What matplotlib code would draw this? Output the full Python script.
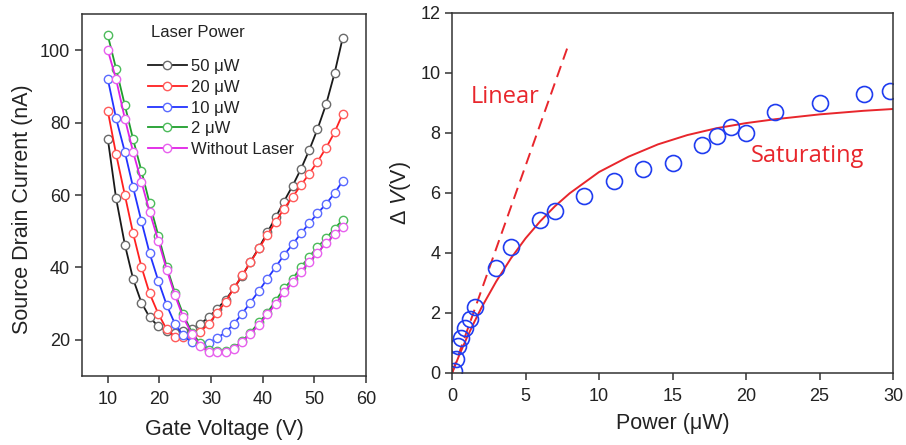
import matplotlib
matplotlib.use("Agg")
import matplotlib.pyplot as plt
from matplotlib.lines import Line2D

plt.rcParams["font.family"] = ["Liberation Sans", "DejaVu Sans"]
plt.rcParams["mathtext.fontset"] = "custom"
plt.rcParams["mathtext.rm"] = "Liberation Sans"
plt.rcParams["mathtext.it"] = "Liberation Sans:italic"

TEXT = "#222222"

# --- transfer curves: source-drain current vs gate voltage ---
gate_voltage = [10.0, 11.6, 13.3, 14.9, 16.5, 18.1, 19.8, 21.4, 23.0, 24.6,
                26.3, 27.9, 29.5, 31.1, 32.8, 34.4, 36.0, 37.6, 39.3, 40.9,
                42.5, 44.1, 45.8, 47.4, 49.0, 50.6, 52.3, 53.9, 55.5]

current_50uw = [75.5, 59.1, 46.3, 36.8, 30.3, 26.2, 23.7, 22.5, 22.0, 22.3,
                23.0, 24.4, 26.2, 28.5, 31.0, 34.2, 37.6, 41.5, 45.5, 49.7,
                53.8, 58.2, 62.6, 67.2, 72.4, 78.2, 85.2, 93.6, 103.5]
current_20uw = [83.2, 71.3, 60.0, 49.4, 40.2, 32.8, 27.1, 22.9, 20.9, 20.8,
                21.2, 22.2, 24.4, 27.3, 30.5, 34.2, 37.8, 41.4, 45.3, 49.0,
                52.6, 56.2, 59.5, 62.7, 65.9, 69.2, 73.1, 77.3, 82.5]
current_10uw = [92.0, 81.2, 71.9, 62.1, 52.8, 43.9, 36.2, 29.6, 24.4, 21.2,
                19.3, 18.8, 19.2, 20.4, 22.1, 24.4, 27.2, 30.3, 33.6, 36.9,
                40.1, 43.4, 46.4, 49.4, 52.2, 54.9, 57.6, 60.5, 63.9]
current_2uw = [104.1, 94.9, 84.8, 75.4, 66.7, 57.7, 48.7, 40.2, 33.0, 27.0,
               22.0, 19.0, 17.2, 16.9, 16.9, 17.8, 19.6, 22.0, 24.8, 27.5,
               30.8, 34.2, 36.8, 40.1, 43.0, 45.6, 48.1, 50.7, 53.2]
current_dark = [100.0, 92.0, 81.1, 71.9, 63.7, 55.3, 47.3, 39.4, 32.3, 26.2,
                21.6, 18.4, 16.7, 16.7, 16.7, 17.6, 19.4, 21.6, 24.2, 27.0,
                29.9, 33.1, 36.0, 38.8, 41.5, 44.1, 46.7, 49.1, 51.2]

series_labels = ["50 \u03bcW", "20 \u03bcW", "10 \u03bcW", "2 \u03bcW", "Without Laser"]
series_data = [current_50uw, current_20uw, current_10uw, current_2uw, current_dark]
line_colors = ["#1a1a1a", "#ff2020", "#2233ff", "#1f9e2c", "#e022e6"]
edge_colors = ["#6a6a6a", "#ff5a5a", "#5a6aff", "#4cbb5a", "#e860ee"]

# --- photovoltage vs laser power ---
power = [0.15, 0.25, 0.4, 0.6, 0.85, 1.25, 1.55, 3.0, 4.0, 6.0, 7.0, 9.0,
         11.0, 13.0, 15.0, 17.0, 18.0, 19.0, 20.0, 22.0, 25.0, 28.0, 29.8]
delta_v = [0.05, 0.45, 0.9, 1.15, 1.5, 1.8, 2.2, 3.5, 4.2, 5.1, 5.4, 5.9,
           6.4, 6.8, 7.0, 7.6, 7.9, 8.2, 8.0, 8.7, 9.0, 9.3, 9.4]

linear_power = [0.0, 7.85]
linear_dv = [0.0, 10.85]

saturating_power = [0, 0.5, 1, 1.5, 2, 3, 4, 5, 6, 7, 8, 10, 12, 14, 16, 18,
                    20, 22, 25, 28, 30]
saturating_dv = [0.0, 0.61, 1.17, 1.69, 2.18, 3.05, 3.82, 4.49, 5.06, 5.56,
                 5.99, 6.70, 7.21, 7.62, 7.93, 8.16, 8.33, 8.46, 8.62, 8.74, 8.8]

RED = "#e8262c"
BLUE = "#1f3cf0"


def style_axes(ax):
    for side in ax.spines.values():
        side.set_linewidth(1.1)
        side.set_color("#333333")
    ax.tick_params(direction="out", length=5, width=1.1, color="#333333",
                   labelsize=13, labelcolor=TEXT, top=False, right=False)
    ax.tick_params(axis="x", pad=5.5)


fig = plt.figure(figsize=(9.06, 4.45), dpi=100)

# left panel
ax1 = fig.add_axes([0.0905, 0.155, 0.3135, 0.8135])
for vals, lab, lc, ec in zip(series_data, series_labels, line_colors, edge_colors):
    ax1.plot(gate_voltage, vals, color=lc, lw=1.3, marker="o", ms=6,
             mfc="white", mec=ec, mew=1.0, label=lab)
ax1.set_xlim(5, 60)
ax1.set_ylim(10, 110)
ax1.set_xticks([10, 20, 30, 40, 50, 60])
ax1.set_yticks([20, 40, 60, 80, 100])
style_axes(ax1)
ax1.set_xlabel("Gate Voltage (V)", fontsize=15.5, color=TEXT, labelpad=8)
ax1.set_ylabel("Source Drain Current (nA)", fontsize=15.5, color=TEXT)
ax1.yaxis.set_label_coords(-0.172, 0.462)

handles = [Line2D([], [], color=lc, lw=1.3, marker="o", ms=6, mfc="white",
                  mec=ec, mew=1.0)
           for lc, ec in zip(line_colors, edge_colors)]
leg = ax1.legend(handles, series_labels, loc="upper left",
                 bbox_to_anchor=(0.232, 0.875), frameon=False, fontsize=12,
                 borderpad=0, borderaxespad=0, handlelength=2.35,
                 handletextpad=0.25, labelspacing=0.34)
for t in leg.get_texts():
    t.set_color(TEXT)
ax1.text(0.408, 0.950, "Laser Power", transform=ax1.transAxes, ha="center",
         va="center", fontsize=12, color=TEXT)

# right panel
ax2 = fig.add_axes([0.499, 0.1618, 0.4867, 0.809])
ax2.plot(saturating_power, saturating_dv, color=RED, lw=1.4)
ax2.plot(linear_power, linear_dv, color=RED, lw=1.4, dashes=(6, 3.5))
ax2.plot(power, delta_v, linestyle="none", marker="o", ms=11.5, mfc="none",
         mec=BLUE, mew=1.2)
ax2.set_xlim(0, 30)
ax2.set_ylim(0, 12)
ax2.set_xticks([0, 5, 10, 15, 20, 25, 30])
ax2.set_yticks([0, 2, 4, 6, 8, 10, 12])
style_axes(ax2)
ax2.set_xlabel("Power (\u03bcW)", fontsize=15.5, color=TEXT, labelpad=6)
ax2.set_ylabel("\u0394 $V$(V)", fontsize=15.5, color=TEXT, labelpad=5)
ax2.text(1.27, 9.2, "Linear", fontsize=17, color=RED, ha="left",
         va="center", family=["Open Sans", "DejaVu Sans"])
ax2.text(20.3, 7.22, "Saturating", fontsize=17, color=RED, ha="left",
         va="center", family=["Open Sans", "DejaVu Sans"])

fig.savefig("out.png", dpi=100)
